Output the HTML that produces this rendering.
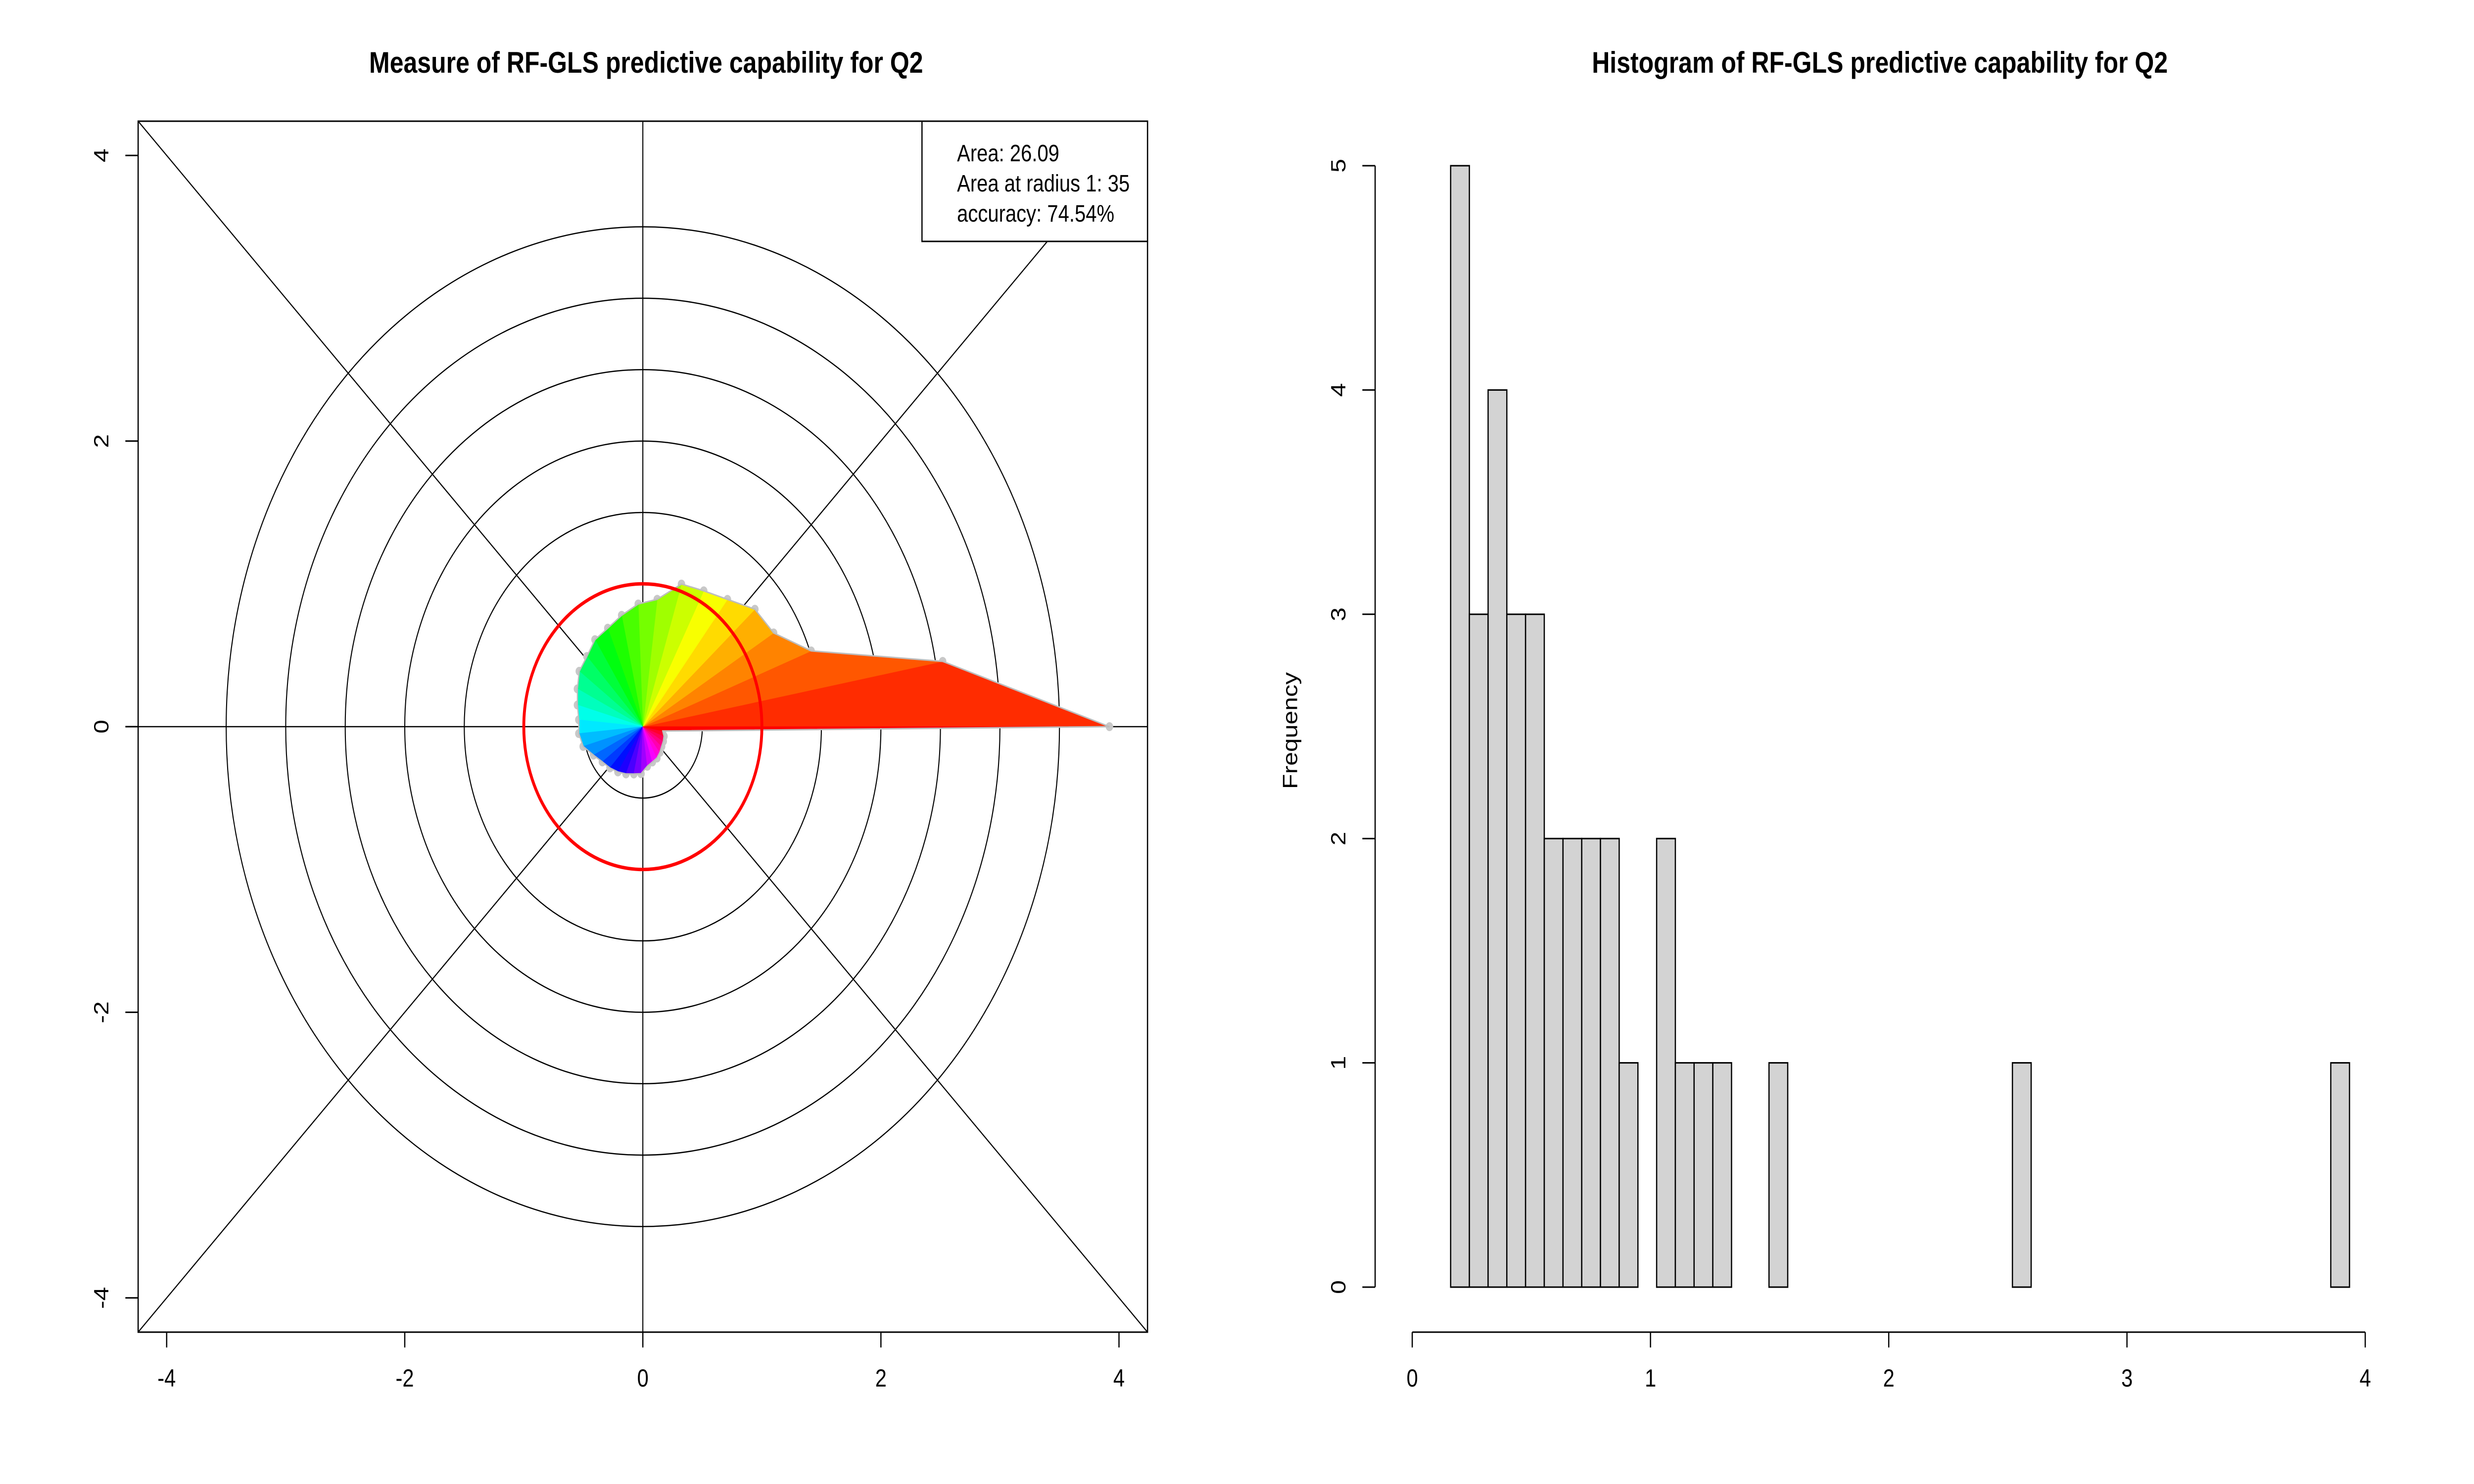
<!DOCTYPE html>
<html>
<head>
<meta charset="utf-8">
<style>
html,body{margin:0;padding:0;background:#fff;overflow:hidden;width:100vw;height:100vh;}
svg{display:block;width:100vw;height:100vh;font-family:"Liberation Sans",Arial,sans-serif;}
</style>
</head>
<body>
<svg id="chart" xmlns="http://www.w3.org/2000/svg" viewBox="0 0 6000 3000" preserveAspectRatio="none">
<rect x="0" y="0" width="6000" height="3000" fill="#fff"/>
<g id="polar"></g>
<g id="hist"></g>
</svg>
<script>
// ---- Polar plot data ----
const polarRadii = [3.92,2.56,1.51,1.28,1.25,1.14,1.08,1.05,0.90,0.86,0.80,0.75,0.73,0.68,0.66,0.61,0.57,0.54,0.54,0.52,0.46,0.42,0.40,0.38,0.36,0.34,0.33,0.28,0.26,0.25,0.23,0.21,0.20,0.19,0.17];
const gridRadii = [0.5,1,1.5,2,2.5,3,3.5];
const polarTicks = [-4,-2,0,2,4];
const polarTickLabels = ["-4","-2","0","2","4"];
const legendLines = ["Area: 26.09","Area at radius 1: 35","accuracy: 74.54%"];
// ---- Histogram data ----
const histBinStart = 0.004;
const histBinWidth = 0.0786;
const histCounts = [0,0,5,3,4,3,3,2,2,2,2,1,0,2,1,1,1,0,0,1,0,0,0,0,0,0,0,0,0,0,0,0,1,0,0,0,0,0,0,0,0,0,0,0,0,0,0,0,0,1];
const histXTicks = [0,1,2,3,4];
const histXTickLabels = ["0","1","2","3","4"];
const histYTicks = [0,1,2,3,4,5];
const histYTickLabels = ["0","1","2","3","4","5"];

const NS = "http://www.w3.org/2000/svg";
function mk(parent, tag, attrs){
  const e = document.createElementNS(NS, tag);
  for (const k in attrs) e.setAttribute(k, attrs[k]);
  parent.appendChild(e);
  return e;
}

// ===== Polar plot =====
const P = document.getElementById('polar');
const cx = 1559, cy = 1469, U = 288.7;
const px = v => cx + v*U;
const py = v => cy - v*U;
const boxL = 335, boxR = 2783, boxT = 245, boxB = 2693;

gridRadii.forEach(r => {
  const c = mk(P,'circle',{cx:cx,cy:cy,r:r*U,fill:'none',stroke:'#000','stroke-width':2.5});
  
  
});
[[boxL,cy,boxR,cy],[cx,boxT,cx,boxB],[boxL,boxT,boxR,boxB],[boxL,boxB,boxR,boxT]].forEach(l => {
  const ln = mk(P,'line',{x1:l[0],y1:l[1],x2:l[2],y2:l[3],stroke:'#000','stroke-width':2.5});
  
  
});

const n = polarRadii.length;
const verts = polarRadii.map((r,i) => {
  const a = 2*Math.PI*i/n;
  return [px(r*Math.cos(a)), py(r*Math.sin(a))];
});
verts.forEach(v => {
  const c = mk(P,'circle',{cx:v[0],cy:v[1],r:9,fill:'#c8c8c8'});
  
  
});
function hsv(h){
  h = ((h%1)+1)%1;
  const i = Math.floor(h*6), f = h*6 - i, q = 1-f;
  const rgb = [[1,f,0],[q,1,0],[0,1,f],[0,q,1],[f,0,1],[1,0,q]][i];
  return 'rgb(' + rgb.map(x=>Math.round(x*255)).join(',') + ')';
}
for (let i=0;i<n;i++){
  const a = verts[i], b = verts[(i+1)%n];
  const s = mk(P,'polygon',{points:cx+','+cy+' '+a[0]+','+a[1]+' '+b[0]+','+b[1],fill:hsv((i+1)/n),stroke:hsv((i+1)/n),'stroke-width':1});
  
  
}
const outline = mk(P,'polygon',{points:verts.map(v=>v.join(',')).join(' '),fill:'none',stroke:'#bdbdbd','stroke-width':3});


const red = mk(P,'circle',{cx:cx,cy:cy,r:U,fill:'none',stroke:'#ff0000','stroke-width':7});


const box = mk(P,'rect',{x:boxL,y:boxT,width:boxR-boxL,height:boxB-boxT,fill:'none',stroke:'#000','stroke-width':3});


polarTicks.forEach((t,i) => {
  const tk = mk(P,'line',{x1:px(t),y1:boxB,x2:px(t),y2:boxB+31,stroke:'#000','stroke-width':3});
  
  
  const tx = mk(P,'text',{x:px(t),y:2803,'font-size':50,'text-anchor':'middle',fill:'#000'});
  tx.textContent = polarTickLabels[i];
  
  
});
polarTicks.forEach((t,i) => {
  const tk = mk(P,'line',{x1:boxL,y1:py(t),x2:boxL-31,y2:py(t),stroke:'#000','stroke-width':3});
  
  
  const tx = mk(P,'text',{x:0,y:0,'font-size':50,'text-anchor':'middle',fill:'#000',transform:'translate(263,'+py(t)+') rotate(-90)'});
  tx.textContent = polarTickLabels[i];
  
  
});
const lg = mk(P,'rect',{x:2236,y:boxT,width:boxR-2236,height:488-boxT,fill:'#fff',stroke:'#000','stroke-width':3});


legendLines.forEach((s,i) => {
  const t = mk(P,'text',{x:2321,y:326+i*61,'font-size':48,fill:'#000'});
  t.textContent = s;
  
  
});
const t1 = mk(P,'text',{x:1567,y:147,'font-size':60,'font-weight':'bold','text-anchor':'middle',fill:'#000'});
t1.textContent = 'Measure of RF-GLS predictive capability for Q2';



// ===== Histogram =====
const H = document.getElementById('hist');
const hx0 = 3425, hU = 577.8, hy0 = 2602, hC = 453.4;
const hx = v => hx0 + v*hU;
const hy = v => hy0 - v*hC;
histCounts.forEach((c,i) => {
  const x0 = hx(histBinStart + i*histBinWidth), x1 = hx(histBinStart + (i+1)*histBinWidth);
  const r = mk(H,'rect',{x:x0,y:hy(c),width:x1-x0,height:hy0-hy(c),fill:'#d3d3d3',stroke:'#000','stroke-width':3});
  
  
});
const xa = mk(H,'line',{x1:hx(histXTicks[0]),y1:2693,x2:hx(histXTicks[histXTicks.length-1]),y2:2693,stroke:'#000','stroke-width':3});


histXTicks.forEach((t,i) => {
  const tk = mk(H,'line',{x1:hx(t),y1:2693,x2:hx(t),y2:2724,stroke:'#000','stroke-width':3});
  
  
  const tx = mk(H,'text',{x:hx(t),y:2803,'font-size':50,'text-anchor':'middle',fill:'#000'});
  tx.textContent = histXTickLabels[i];
  
  
});
const ya = mk(H,'line',{x1:3335,y1:hy(histYTicks[0]),x2:3335,y2:hy(histYTicks[histYTicks.length-1]),stroke:'#000','stroke-width':3});


histYTicks.forEach((t,i) => {
  const tk = mk(H,'line',{x1:3335,y1:hy(t),x2:3304,y2:hy(t),stroke:'#000','stroke-width':3});
  
  
  const tx = mk(H,'text',{x:0,y:0,'font-size':50,'text-anchor':'middle',fill:'#000',transform:'translate(3263,'+hy(t)+') rotate(-90)'});
  tx.textContent = histYTickLabels[i];
  
  
});
const yt = mk(H,'text',{x:0,y:0,'font-size':50,'text-anchor':'middle',fill:'#000',transform:'translate(3146,1477) rotate(-90)'});
yt.textContent = 'Frequency';


const t2 = mk(H,'text',{x:4559,y:147,'font-size':60,'font-weight':'bold','text-anchor':'middle',fill:'#000'});
t2.textContent = 'Histogram of RF-GLS predictive capability for Q2';


</script>
</body>
</html>
